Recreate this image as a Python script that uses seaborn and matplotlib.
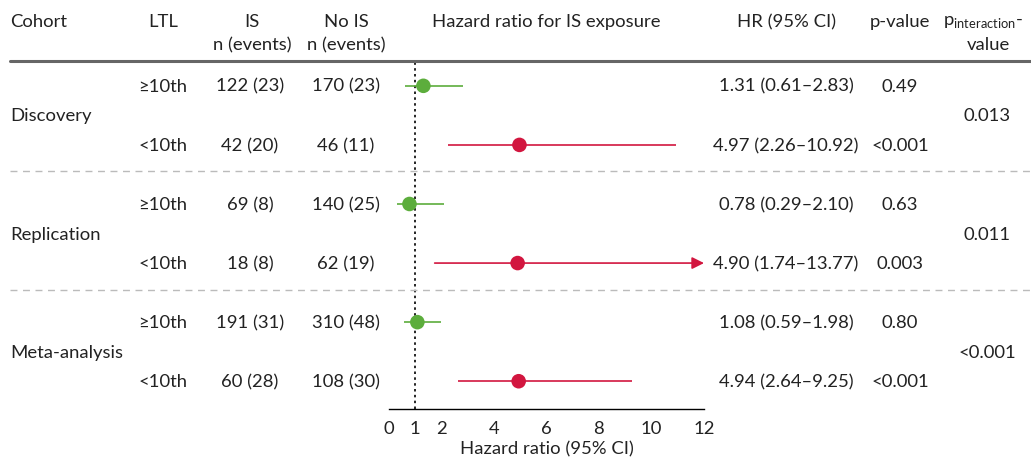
import numpy as np
import pandas as pd
import seaborn as sns
import matplotlib
matplotlib.use("Agg")
from matplotlib import pyplot as plt
from matplotlib import transforms

# data
cohorts = ["Discovery", "Replication", "Meta-analysis"]
ltl = ["≥10th", "<10th"] * 3
is_n = ["122 (23)", "42 (20)", "69 (8)", "18 (8)", "191 (31)", "60 (28)"]
nois_n = ["170 (23)", "46 (11)", "140 (25)", "62 (19)", "310 (48)", "108 (30)"]
hr = [1.31, 4.97, 0.78, 4.90, 1.08, 4.94]
lo = [0.61, 2.26, 0.29, 1.74, 0.59, 2.64]
hi = [2.83, 10.92, 2.10, 13.77, 1.98, 9.25]
pval = ["0.49", "<0.001", "0.63", "0.003", "0.80", "<0.001"]
p_int = ["0.013", "0.011", "<0.001"]
x_ticks = [0, 1, 2, 4, 6, 8, 10, 12]
x_max = 12

green = "#5cad3c"
red = "#d2163f"
txt = "#222222"

df = pd.DataFrame({"row": np.arange(len(hr)), "hr": hr, "lo": lo, "hi": hi,
                   "ltl": ltl})

sns.set_theme(style="white")
plt.rcParams["font.family"] = ["Lato", "DejaVu Sans"]
FS = 13.3
plt.rcParams["font.size"] = FS

W, H = 1031, 460
fig = plt.figure(figsize=(W / 100, H / 100), dpi=100)


def fx(px):
    return px / W


def fy(py):
    return 1 - py / H


ax = fig.add_axes([fx(389), fy(410), fx(704) - fx(389), fy(62) - fy(410)])
ax.set_xlim(0, x_max)
ax.set_ylim(5.47, -0.42)

# CI lines
for i, r in df.iterrows():
    c = green if r["ltl"] == "≥10th" else red
    if r["hi"] > x_max:
        ax.annotate("", xy=(x_max, r["row"]), xytext=(r["lo"], r["row"]),
                    arrowprops=dict(arrowstyle="-|>", color=c, lw=1.2,
                                    mutation_scale=18, shrinkA=0, shrinkB=0),
                    annotation_clip=False)
    else:
        ax.hlines(r["row"], r["lo"], r["hi"], color=c, lw=1.2)

sns.scatterplot(data=df, x="hr", y="row", hue="ltl",
                palette={"≥10th": green, "<10th": red}, s=110,
                edgecolor="none", legend=False, zorder=3, ax=ax)

ax.axvline(1, color="black", lw=1.2, ls=(0, (1.5, 2)), zorder=1)

sns.despine(ax=ax, left=True, top=True, right=True)
ax.set_yticks([])
ax.set_ylabel("")
ax.set_xticks(x_ticks)
ax.tick_params(axis="x", direction="out", length=6, width=1, color="black",
               labelsize=FS, labelcolor=txt, pad=2)
ax.spines["bottom"].set_color("black")
ax.spines["bottom"].set_linewidth(1)
ax.set_xlabel("Hazard ratio (95% CI)", fontsize=FS, color=txt, labelpad=3)
ax.patch.set_alpha(0)

# table text: x in figure coords, y in row units
tr = transforms.blended_transform_factory(fig.transFigure, ax.transData)
for i in range(len(hr)):
    ax.text(fx(163), i, ltl[i], transform=tr, ha="center", va="center", fontsize=FS, color=txt)
    ax.text(fx(250), i, is_n[i], transform=tr, ha="center", va="center", fontsize=FS, color=txt)
    ax.text(fx(346), i, nois_n[i], transform=tr, ha="center", va="center", fontsize=FS, color=txt)
    ax.text(fx(786), i, f"{hr[i]:.2f} ({lo[i]:.2f}–{hi[i]:.2f})", transform=tr,
            ha="center", va="center", fontsize=FS, color=txt)
    ax.text(fx(900), i, pval[i], transform=tr, ha="center", va="center", fontsize=FS, color=txt)

for g, name in enumerate(cohorts):
    ax.text(fx(10), 2 * g + 0.5, name, transform=tr, ha="left", va="center", fontsize=FS, color=txt)
    ax.text(fx(987), 2 * g + 0.5, p_int[g], transform=tr, ha="center", va="center", fontsize=FS, color=txt)

for g in range(1, len(cohorts)):
    ax.plot([fx(10), 1], [2 * g - 0.55, 2 * g - 0.55], transform=tr, color="#bbbbbb",
            lw=1, ls=(0, (5, 4)), clip_on=False)

# header
ax.plot([fx(10), 1], [-0.42, -0.42], transform=tr, color="#666666", lw=2.2, clip_on=False)
hy1, hy2 = fy(22), fy(45)
fig.text(fx(10), hy1, "Cohort", ha="left", va="center", fontsize=FS, color=txt)
fig.text(fx(163), hy1, "LTL", ha="center", va="center", fontsize=FS, color=txt)
fig.text(fx(252), hy1, "IS", ha="center", va="center", fontsize=FS, color=txt)
fig.text(fx(252), hy2, "n (events)", ha="center", va="center", fontsize=FS, color=txt)
fig.text(fx(346), hy1, "No IS", ha="center", va="center", fontsize=FS, color=txt)
fig.text(fx(346), hy2, "n (events)", ha="center", va="center", fontsize=FS, color=txt)
fig.text(fx(546), hy1, "Hazard ratio for IS exposure", ha="center", va="center", fontsize=FS, color=txt)
fig.text(fx(787), hy1, "HR (95% CI)", ha="center", va="center", fontsize=FS, color=txt)
fig.text(fx(900), hy1, "p-value", ha="center", va="center", fontsize=FS, color=txt)
fig.text(fx(943), hy1, r"p$_{\mathregular{interaction}}$-", ha="left", va="center",
         fontsize=FS, color=txt)
fig.text(fx(988), hy2, "value", ha="center", va="center", fontsize=FS, color=txt)

fig.savefig("out.png", dpi=100)
